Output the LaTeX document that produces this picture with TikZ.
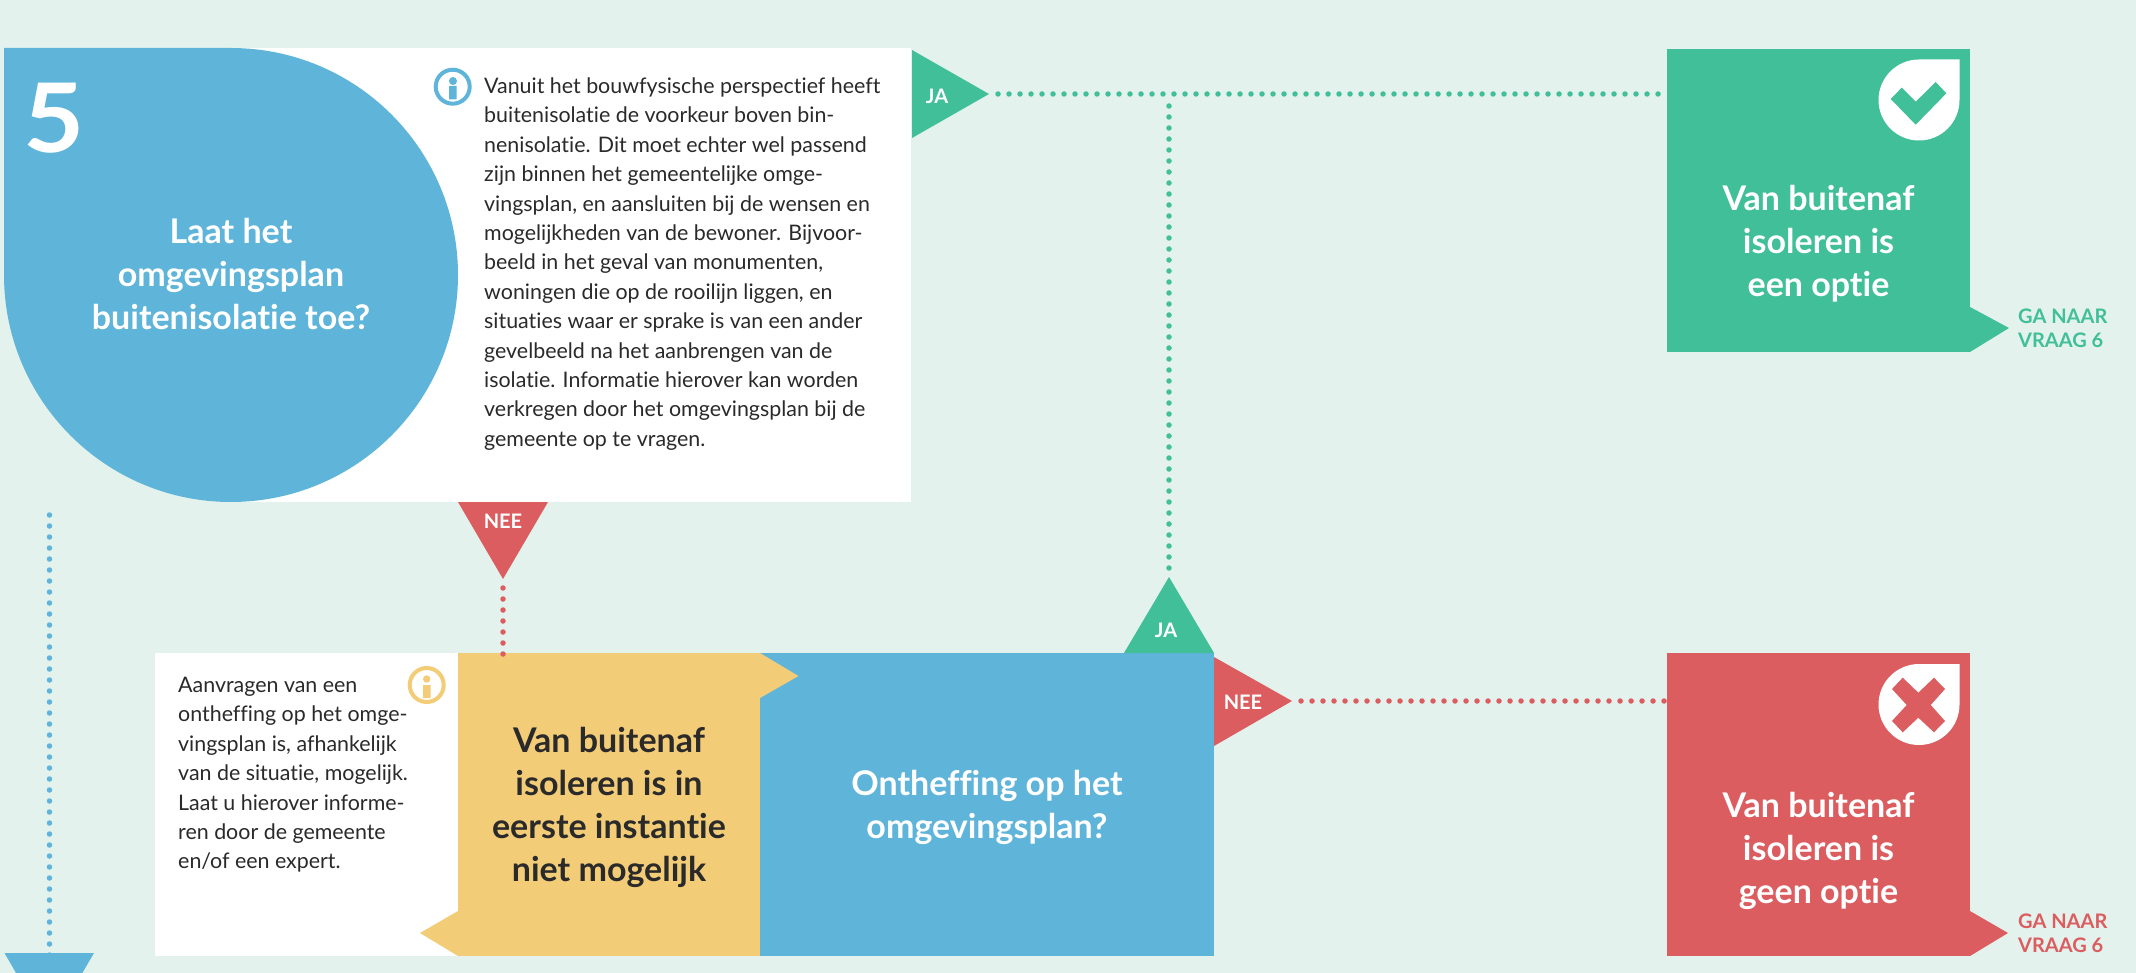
\documentclass[tikz,border=0pt]{standalone}
\usepackage{fontspec}
\setmainfont{Lato}[Ligatures=NoCommon]
\definecolor{bgc}{HTML}{E3F2EC}
\definecolor{bluec}{HTML}{5FB4D9}
\definecolor{greenc}{HTML}{40BF98}
\definecolor{redc}{HTML}{DC5D60}
\definecolor{yelc}{HTML}{F3CC78}
\definecolor{inkc}{HTML}{2A2A2A}
\tikzset{
  bx/.style={inner sep=0pt,outer sep=0pt,anchor=north west},
  dotline/.style={line width=5.5pt,line cap=round,dash pattern=on 0pt off 11pt},
  body/.style={inner sep=0pt,anchor=north west,align=left,text=inkc,font=\fontsize{21.4}{29.4}\selectfont},
  title/.style={inner sep=0pt,align=center,font=\fontsize{34}{43}\selectfont\bfseries},
  tag/.style={inner sep=0pt,text=white,font=\fontsize{20}{24}\selectfont\bfseries},
  goto/.style={inner sep=0pt,anchor=west,align=left,font=\fontsize{20}{24}\selectfont\bfseries},
}
\begin{document}
\begin{tikzpicture}[x=1pt,y=-1pt]
\useasboundingbox (0,0) rectangle (2136,973);
\clip (0,0) rectangle (2136,973);
\fill[bgc] (0,0) rectangle (2136,973);
% top question
\node[bx,fill=white,minimum width=680pt,minimum height=454pt] (infotop) at (231,48) {};
\fill[bluec] (4,48) -- (231,48) arc[start angle=-90,end angle=90,radius=227] arc[start angle=90,end angle=180,radius=227] -- cycle;
\node[inner sep=0pt,text=white,xscale=1.1,font=\fontsize{96}{96}\selectfont\bfseries] (num) at (54.5,118) {5};
\node[title,text=white] (q1) at (231,274) {Laat het\\omgevingsplan\\buitenisolatie toe?};
% info icon
\draw[bluec,line width=4pt] (452.7,86.7) circle[radius=17];
\fill[bluec] (453,81) circle[radius=4] (449,86) rectangle (456.7,99.3);
\node[body] (t1) at (484,77.5) {Vanuit het bouwfysische perspectief heeft\\buitenisolatie de voorkeur boven bin-\\nenisolatie. Dit moet echter wel passend\\zijn binnen het gemeentelijke omge-\\vingsplan, en aansluiten bij de wensen en\\mogelijkheden van de bewoner. Bijvoor-\\beeld in het geval van monumenten,\\woningen die op de rooilijn liggen, en\\situaties waar er sprake is van een ander\\gevelbeeld na het aanbrengen van de\\isolatie. Informatie hierover kan worden\\verkregen door het omgevingsplan bij de\\gemeente op te vragen.};
% lower row
\node[bx,fill=white,minimum width=303pt,minimum height=303pt] (infolow) at (155,653) {};
\node[bx,fill=bluec,minimum width=454pt,minimum height=303pt] (q2) at (760,653) {};
\node[bx,fill=yelc,minimum width=302pt,minimum height=303pt] (notnow) at (458,653) {};
\fill[yelc] (760,653) -- (798.5,676) -- (760,698) -- cycle;
\fill[yelc] (458,911) -- (420,933) -- (458,956) -- cycle;
\node[title,text=inkc,align=center] at (609,807) {Van buitenaf\\isoleren is in\\eerste instantie\\niet mogelijk};
\node[title,text=white] at (987,807) {Ontheffing op het\\omgevingsplan?};
\node[body] (t2) at (178,677) {Aanvragen van een\\ontheffing op het omge-\\vingsplan is, afhankelijk\\van de situatie, mogelijk.\\Laat u hierover informe-\\ren door de gemeente\\en/of een expert.};
\draw[yelc,line width=4pt] (426.7,685) circle[radius=17];
\fill[yelc] (426.7,679) circle[radius=3.7] (423,685) rectangle (430.7,698);
% outcome boxes
\node[bx,fill=greenc,minimum width=303pt,minimum height=303pt] (ok) at (1667,49) {};
\fill[greenc] (1970,307) -- (2009,328) -- (1970,352) -- cycle;
\node[bx,fill=redc,minimum width=303pt,minimum height=303pt] (no) at (1667,653) {};
\fill[redc] (1970,911) -- (2008,933) -- (1970,956) -- cycle;
\node[title,text=white] at (1818.5,244) {Van buitenaf\\isoleren is\\een optie};
\node[title,text=white] at (1818.5,851) {Van buitenaf\\isoleren is\\geen optie};
\node[goto,text=greenc] (g1) at (2018,328) {GA NAAR\\VRAAG 6};
\node[goto,text=redc] (g2) at (2018,933) {GA NAAR\\VRAAG 6};
% drop icons
\fill[white] (1919,59.5) -- (1959.5,59.5) -- (1959.5,100) arc[start angle=0,end angle=270,radius=40.5] -- cycle;
\fill[greenc] (1890.7,99) -- (1901.7,87.7) -- (1915.7,101.7) -- (1935.7,82) -- (1946.3,93.3) -- (1915.7,124.7) -- cycle;
\fill[white] (1919,664) -- (1959.5,664) -- (1959.5,704.5) arc[start angle=0,end angle=270,radius=40.5] -- cycle;
\fill[redc] (1902.7,677.7) -- (1918.3,692.7) -- (1934,677.7) -- (1945,689) -- (1930.7,705) -- (1945,721) -- (1934,732.3) -- (1918.3,717.7) -- (1902.7,732.3) -- (1892,721) -- (1906.7,705) -- (1892,689) -- cycle;
% triangles
\fill[greenc] (912,50) -- (989,94) -- (912,138) -- cycle;
\coordinate (jaTip) at (989,94);
\node[tag] at (937,96) {JA};
\fill[redc] (458,502) -- (548,502) -- (503,579) -- cycle;
\coordinate (neeTip) at (503,579);
\node[tag] at (503,521) {NEE};
\fill[greenc] (1124,653) -- (1214,653) -- (1169,577) -- cycle;
\coordinate (jaUp) at (1169,577);
\node[tag] at (1166,630) {JA};
\fill[redc] (1214,657) -- (1292,701) -- (1214,746) -- cycle;
\coordinate (neeRight) at (1292,701);
\node[tag] at (1243,702) {NEE};
\fill[bluec] (4.5,953) -- (94,953) -- (49,1030) -- cycle;
\coordinate (downTip) at (49.5,956);
\coordinate (downStart) at (49.5,515);
% connectors
\coordinate (okIn) at (ok.west |- jaTip);
\coordinate (noIn) at (no.west |- neeRight);
\coordinate (joinJa) at (jaUp |- jaTip);
\draw[dotline,greenc,shorten <=9pt] (jaTip) -- (okIn);
\draw[dotline,greenc,shorten <=9pt,shorten >=9pt] (jaUp) -- (joinJa);
\draw[dotline,redc,shorten <=9pt,shorten >=-2pt] (neeTip) -- (notnow.north -| neeTip);
\draw[dotline,redc,shorten <=9pt] (neeRight) -- (noIn);
\draw[dotline,bluec] (downStart) -- (downTip);
\end{tikzpicture}
\end{document}
